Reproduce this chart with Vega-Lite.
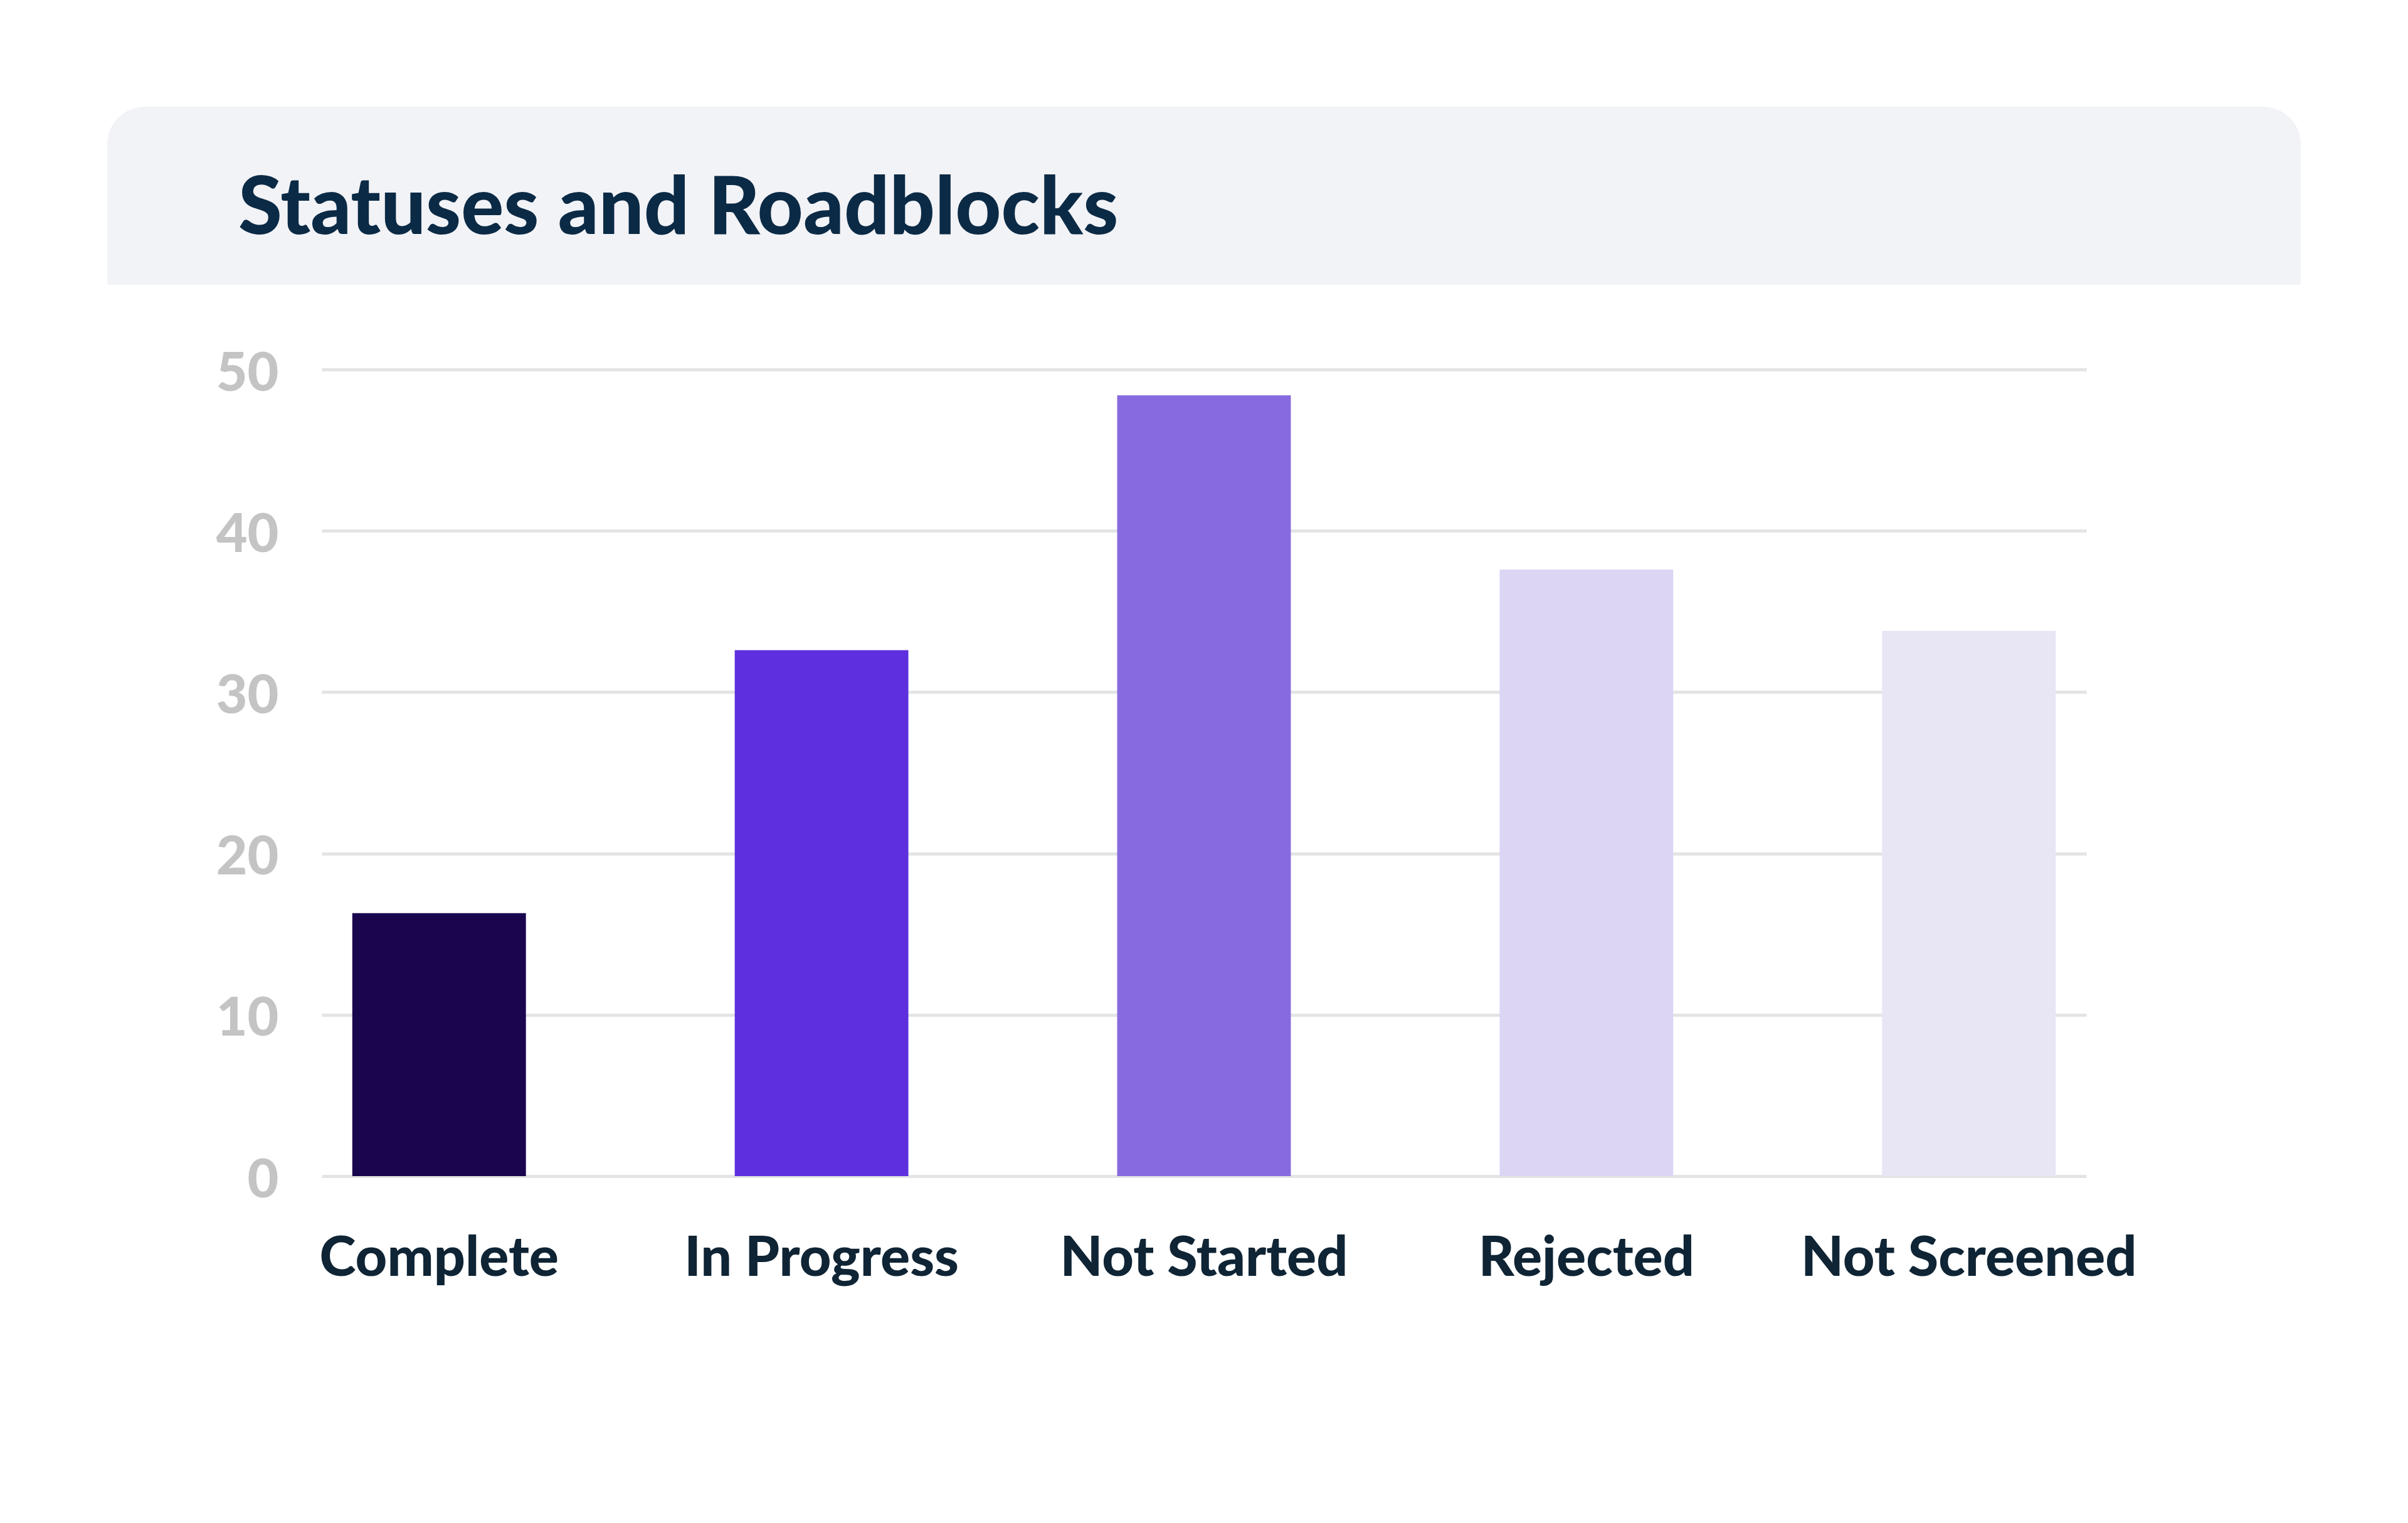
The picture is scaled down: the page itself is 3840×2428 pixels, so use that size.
{
  "$schema": "https://vega.github.io/schema/vega-lite/v6.json",
  "background": "white",
  "padding": {"left": 171, "top": 170, "right": 0, "bottom": 0},
  "autosize": {"type": "pad"},
  "spacing": 135,
  "center": true,
  "bounds": "flush",
  "vconcat": [
    {
      "width": 3498,
      "height": 284,
      "data": {"values": [{}]},
      "title": {
        "text": "Statuses and Roadblocks",
        "anchor": "start",
        "orient": "top",
        "frame": "group",
        "baseline": "alphabetic",
        "offset": -330,
        "dx": 209,
        "font": "Lato",
        "fontSize": 127,
        "fontWeight": 900,
        "color": "#0b2a45"
      },
      "mark": {"type": "rect", "color": "#f2f3f7", "cornerRadiusTopLeft": 60, "cornerRadiusTopRight": 60},
      "encoding": {}
    },
    {
      "width": 2814,
      "height": 1286,
      "data": {
        "values": [
          {"status": "Complete", "count": 16.3},
          {"status": "In Progress", "count": 32.6},
          {"status": "Not Started", "count": 48.4},
          {"status": "Rejected", "count": 37.6},
          {"status": "Not Screened", "count": 33.8}
        ]
      },
      "mark": {"type": "bar"},
      "encoding": {
        "x": {
          "field": "status",
          "type": "nominal",
          "sort": null,
          "scale": {"paddingInner": 0.546, "paddingOuter": 0.08},
          "axis": {
            "title": null,
            "domain": false,
            "ticks": false,
            "grid": false,
            "labelAngle": 0,
            "labelLimit": 0,
            "labelFont": "Lato",
            "labelFontSize": 88,
            "labelFontWeight": 900,
            "labelColor": "#0f2434",
            "labelPadding": 88
          }
        },
        "y": {
          "field": "count",
          "type": "quantitative",
          "scale": {"domain": [0, 50]},
          "axis": {
            "title": null,
            "domain": false,
            "ticks": false,
            "values": [0, 10, 20, 30, 40, 50],
            "grid": true,
            "gridColor": "#e4e4e4",
            "gridWidth": 5,
            "labelFont": "Lato",
            "labelFontSize": 86,
            "labelFontWeight": 900,
            "labelColor": "#c4c4c4",
            "labelPadding": 69,
            "labelOffset": 7
          }
        },
        "color": {
          "field": "status",
          "type": "nominal",
          "scale": {
            "domain": ["Complete", "In Progress", "Not Started", "Rejected", "Not Screened"],
            "range": ["#1a064f", "#5e2fdf", "#866ae0", "#dcd5f4", "#e8e5f4"]
          },
          "legend": null
        }
      }
    }
  ],
  "config": {
    "view": {"stroke": null}
  }
}
